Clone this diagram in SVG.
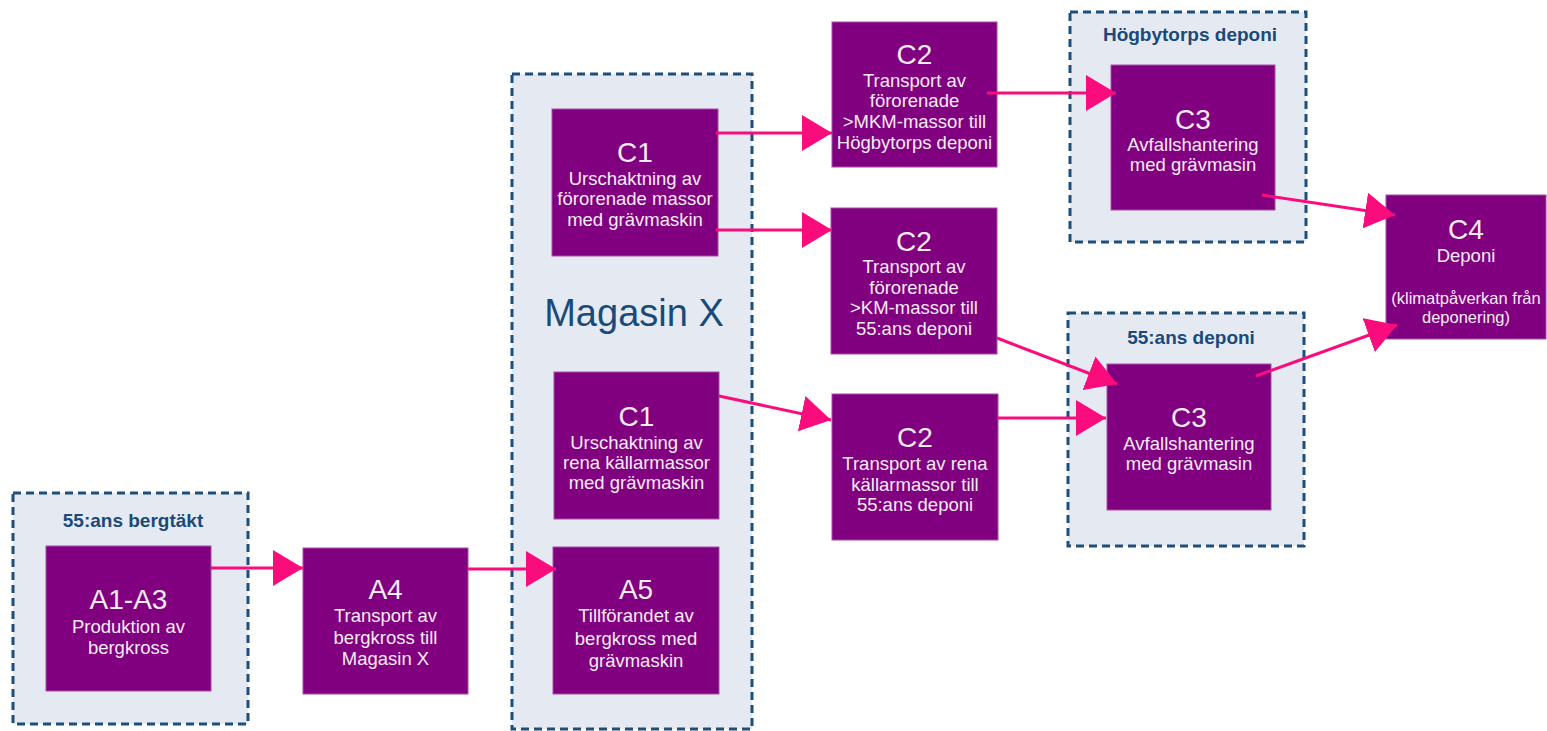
<svg xmlns="http://www.w3.org/2000/svg" width="1547" height="731" viewBox="0 0 1547 731">
<style>
.cont{fill:#e5eaf2;stroke:#1d4f7d;stroke-width:3;stroke-dasharray:8 5}
.node{fill:#800080;stroke:#a54ea5;stroke-width:1}
.code{font-family:"Liberation Sans",Arial,sans-serif;font-size:28px;fill:#f6ecf6;text-anchor:middle}
.txt{font-family:"Liberation Sans",Arial,sans-serif;font-size:18.5px;fill:#f6ecf6;text-anchor:middle}
.small{font-family:"Liberation Sans",Arial,sans-serif;font-size:16.5px;fill:#f6ecf6;text-anchor:middle}
.title{font-family:"Liberation Sans",Arial,sans-serif;font-size:19px;font-weight:bold;fill:#1a4a7a;text-anchor:middle}
.big{font-family:"Liberation Sans",Arial,sans-serif;font-size:38px;fill:#1a4a7a;text-anchor:middle}
.arr{stroke:#fb0c7c;stroke-width:3;fill:none;marker-end:url(#ah)}
</style>
<defs>
<marker id="ah" markerUnits="userSpaceOnUse" markerWidth="31" markerHeight="36" refX="30" refY="18" orient="auto">
<path d="M0,0 L30,18 L0,36 z" fill="#fb0c7c"/>
</marker>
</defs>
<rect width="1547" height="731" fill="#ffffff"/>
<g id="cont-bergtakt">
<rect class="cont" x="13" y="493" width="235" height="231"/>
<text class="title" x="133" y="527">55:ans bergtäkt</text>
</g>
<g id="cont-magasin">
<rect class="cont" x="512" y="74" width="240" height="655"/>
<text class="big" x="634" y="326">Magasin X</text>
</g>
<g id="cont-hogbytorp">
<rect class="cont" x="1070" y="12" width="236" height="230"/>
<text class="title" x="1190" y="41">Högbytorps deponi</text>
</g>
<g id="cont-55deponi">
<rect class="cont" x="1068" y="313" width="236" height="233"/>
<text class="title" x="1191" y="344">55:ans deponi</text>
</g>
<g id="A1-A3">
<rect class="node" x="46" y="546" width="165" height="145"/>
<text class="code" x="128.5" y="609">A1-A3</text>
<text class="txt" x="128.5" y="632.5">Produktion av</text>
<text class="txt" x="128.5" y="653.5">bergkross</text>
</g>
<g id="A4">
<rect class="node" x="303" y="548" width="165" height="146"/>
<text class="code" x="385.5" y="599">A4</text>
<text class="txt" x="385.5" y="621.5">Transport av</text>
<text class="txt" x="385.5" y="643.5">bergkross till</text>
<text class="txt" x="385.5" y="664.5">Magasin X</text>
</g>
<g id="A5">
<rect class="node" x="553" y="547" width="166" height="147"/>
<text class="code" x="636" y="599">A5</text>
<text class="txt" x="636" y="621.5">Tillförandet av</text>
<text class="txt" x="636" y="644.5">bergkross med</text>
<text class="txt" x="636" y="666.5">grävmaskin</text>
</g>
<g id="C1-top">
<rect class="node" x="552" y="109" width="166" height="147"/>
<text class="code" x="635" y="162">C1</text>
<text class="txt" x="635" y="184.5">Urschaktning av</text>
<text class="txt" x="635" y="204.5">förorenade massor</text>
<text class="txt" x="635" y="225.5">med grävmaskin</text>
</g>
<g id="C1-bottom">
<rect class="node" x="554" y="372" width="165" height="147"/>
<text class="code" x="636.5" y="426">C1</text>
<text class="txt" x="636.5" y="448.5">Urschaktning av</text>
<text class="txt" x="636.5" y="468.5">rena källarmassor</text>
<text class="txt" x="636.5" y="488.5">med grävmaskin</text>
</g>
<g id="C2-top">
<rect class="node" x="832" y="22" width="165" height="145"/>
<text class="code" x="914.5" y="64">C2</text>
<text class="txt" x="914.5" y="86.5">Transport av</text>
<text class="txt" x="914.5" y="106.5">förorenade</text>
<text class="txt" x="914.5" y="127.5">&gt;MKM-massor till</text>
<text class="txt" x="914.5" y="148.5">Högbytorps deponi</text>
</g>
<g id="C2-middle">
<rect class="node" x="831" y="208" width="166" height="146"/>
<text class="code" x="914" y="251">C2</text>
<text class="txt" x="914" y="272.5">Transport av</text>
<text class="txt" x="914" y="293.5">förorenade</text>
<text class="txt" x="914" y="313.5">&gt;KM-massor till</text>
<text class="txt" x="914" y="334.5">55:ans deponi</text>
</g>
<g id="C2-bottom">
<rect class="node" x="832" y="394" width="166" height="146"/>
<text class="code" x="915" y="447">C2</text>
<text class="txt" x="915" y="469.5">Transport av rena</text>
<text class="txt" x="915" y="490.5">källarmassor till</text>
<text class="txt" x="915" y="510.5">55:ans deponi</text>
</g>
<g id="C3-top">
<rect class="node" x="1111" y="65" width="164" height="145"/>
<text class="code" x="1193" y="129">C3</text>
<text class="txt" x="1193" y="150.5">Avfallshantering</text>
<text class="txt" x="1193" y="170.5">med grävmasin</text>
</g>
<g id="C3-bottom">
<rect class="node" x="1107" y="364" width="164" height="146"/>
<text class="code" x="1189" y="427">C3</text>
<text class="txt" x="1189" y="449.5">Avfallshantering</text>
<text class="txt" x="1189" y="469.5">med grävmasin</text>
</g>
<g id="C4">
<rect class="node" x="1386" y="195" width="160" height="144"/>
<text class="code" x="1466" y="239">C4</text>
<text class="txt" x="1466" y="261.5">Deponi</text>
<text class="small" x="1466" y="304">(klimatpåverkan från</text>
<text class="small" x="1466" y="323">deponering)</text>
</g>
<g id="connectors">
<line class="arr" x1="211" y1="568" x2="303" y2="568"/>
<line class="arr" x1="468" y1="569" x2="556" y2="569"/>
<line class="arr" x1="716" y1="133" x2="832" y2="133"/>
<line class="arr" x1="716" y1="230" x2="832" y2="230"/>
<line class="arr" x1="719" y1="396" x2="831" y2="420"/>
<line class="arr" x1="987" y1="93" x2="1116" y2="93"/>
<line class="arr" x1="997" y1="338" x2="1117" y2="384"/>
<line class="arr" x1="998" y1="418" x2="1106" y2="418"/>
<line class="arr" x1="1262" y1="195" x2="1395" y2="215"/>
<line class="arr" x1="1256" y1="376" x2="1397" y2="325"/>
</g>
</svg>
